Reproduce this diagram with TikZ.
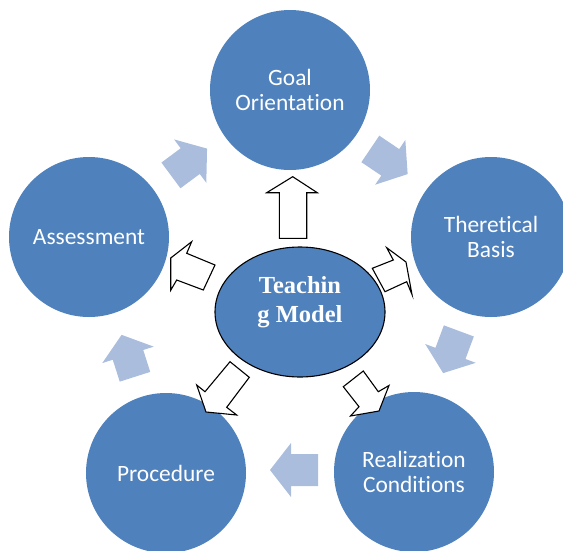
\documentclass[tikz,border=0pt]{standalone}
\usepackage{fontspec}
\setmainfont{Carlito}[Ligatures=NoCommon,RawFeature={-liga;-clig;-dlig}]
\newfontfamily\tnr{Liberation Serif}
\usetikzlibrary{shapes.geometric}
\definecolor{cblue}{RGB}{79,129,189}
\definecolor{lblue}{RGB}{170,189,221}
\newcommand{\cyclearrow}[4]{%
  \begin{scope}[shift={(#1,#2)},rotate=#3]
    \fill[larrow] ({-#4/2},16) -- ({#4/2-21},16) -- ({#4/2-21},27) -- ({#4/2},0)
      -- ({#4/2-21},-27) -- ({#4/2-21},-16) -- ({-#4/2},-16) -- cycle;
  \end{scope}}
\begin{document}
\begin{tikzpicture}[x=1pt,y=-1pt,
  circ/.style={circle, fill=cblue, minimum size=160pt, inner sep=0pt, text=white,
    align=center, font=\fontsize{23.4}{25.5}\selectfont},
  hub/.style={ellipse, draw=black, line width=1.1pt, fill=cblue,
    minimum width=170pt, minimum height=130pt, inner sep=0pt},
  hubtext/.style={text=white, align=center, font=\tnr\bfseries\fontsize{24.5}{29}\selectfont},
  warrow/.style={draw=black, fill=white, line width=1.1pt, line join=miter},
  larrow/.style={fill=lblue}]
\useasboundingbox (0,0) rectangle (563,550);

% cycle arrows (light blue)
\cyclearrow{189}{162}{36.6}{45}
\cyclearrow{389}{161.5}{-34}{45}
\cyclearrow{451}{352}{-110.4}{45}
\cyclearrow{294}{470}{180}{48}
\cyclearrow{128.3}{355.8}{107.7}{44}

% circles
\node[circ] (goal) at (290,90) {Goal\\Orientation};
\node[circ] (theory) at (491,237) {Theretical\\Basis};
\node[circ] (real) at (414,472) {Realization\\Conditions};
\node[circ] (proc) at (166,473) {Procedure};
\node[circ] (assess) at (89,237) {Assessment};

% hub
\node[hub] (hub) at (300,312) {};
\node[hubtext] (hublabel) at (300,302) {Teachin\\g Model};

% white block arrows from hub
\draw[warrow] (279.3,238.3) -- (279.3,192.7) -- (266.7,192.7) -- (292.7,176.7)
  -- (317.3,192.7) -- (306.7,192.7) -- (306.7,238.3) -- cycle;
\draw[warrow] (215,265) -- (186.7,253.3) -- (191.7,241.7) -- (170.7,258)
  -- (170.7,290.3) -- (176.7,280) -- (203.3,290) -- cycle;
\draw[warrow] (372.3,268.3) -- (393.3,260) -- (386.7,247.7) -- (406,262)
  -- (412,294.5) -- (406.7,281.7) -- (385,291.7) -- cycle;
\draw[warrow] (230,361.7) -- (205,391.7) -- (196.7,385) -- (206,412)
  -- (236.7,415) -- (226.7,407.3) -- (249.3,377.3) -- cycle;
\draw[warrow] (343.3,386.7) -- (363.3,371) -- (378.3,391.7) -- (389,385.5)
  -- (379,411) -- (350.5,416) -- (359,406.7) -- cycle;
\end{tikzpicture}
\end{document}
